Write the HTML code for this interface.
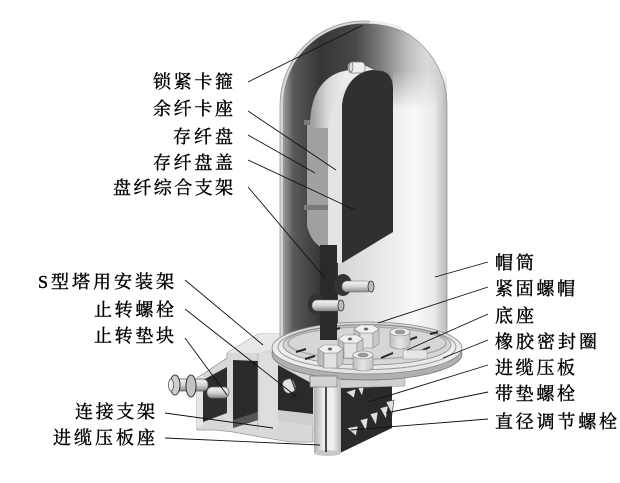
<!DOCTYPE html>
<html><head><meta charset="utf-8">
<style>
html,body{margin:0;padding:0;background:#fff;}
svg{display:block;}
text{font-family:"Liberation Serif","Noto Serif CJK SC","Noto Sans CJK SC",serif;font-size:18px;fill:#000;stroke:#000;stroke-width:0.4;dominant-baseline:central;}
</style></head>
<body>
<svg width="620" height="483" viewBox="0 0 620 483" xmlns="http://www.w3.org/2000/svg">
<defs>
  <linearGradient id="gInt" gradientUnits="userSpaceOnUse" x1="280" y1="0" x2="447" y2="0">
    <stop offset="0" stop-color="#c8c8c8"/>
    <stop offset="0.02" stop-color="#9a9a9a"/>
    <stop offset="0.08" stop-color="#5a5a5a"/>
    <stop offset="0.24" stop-color="#363636"/>
    <stop offset="0.45" stop-color="#474747"/>
    <stop offset="0.62" stop-color="#838383"/>
    <stop offset="0.76" stop-color="#bdbdbd"/>
    <stop offset="0.88" stop-color="#dadada"/>
    <stop offset="0.97" stop-color="#cecece"/>
    <stop offset="1" stop-color="#aaaaaa"/>
  </linearGradient>
  <linearGradient id="gExt" gradientUnits="userSpaceOnUse" x1="338" y1="0" x2="447" y2="0">
    <stop offset="0" stop-color="#d4d4d4"/>
    <stop offset="0.3" stop-color="#e4e4e4"/>
    <stop offset="0.7" stop-color="#f8f8f8"/>
    <stop offset="0.88" stop-color="#ebebeb"/>
    <stop offset="1" stop-color="#b8b8b8"/>
  </linearGradient>
  <linearGradient id="vfade" gradientUnits="userSpaceOnUse" x1="0" y1="70" x2="0" y2="110">
    <stop offset="0" stop-color="#000"/>
    <stop offset="1" stop-color="#fff"/>
  </linearGradient>
  <mask id="mExt"><rect x="270" y="0" width="190" height="483" fill="url(#vfade)"/></mask>
  <linearGradient id="gHold" gradientUnits="userSpaceOnUse" x1="310" y1="0" x2="345" y2="0">
    <stop offset="0" stop-color="#9a9a9a"/>
    <stop offset="0.5" stop-color="#d8d8d8"/>
    <stop offset="1" stop-color="#ececec"/>
  </linearGradient>
  <linearGradient id="gCol" gradientUnits="userSpaceOnUse" x1="314" y1="0" x2="341" y2="0">
    <stop offset="0" stop-color="#b0b0b0"/>
    <stop offset="0.35" stop-color="#ececec"/>
    <stop offset="0.7" stop-color="#f2f2f2"/>
    <stop offset="1" stop-color="#b4b4b4"/>
  </linearGradient>
  <linearGradient id="gPeg" x1="0" y1="0" x2="0" y2="1">
    <stop offset="0" stop-color="#f4f4f4"/>
    <stop offset="0.5" stop-color="#d6d6d6"/>
    <stop offset="1" stop-color="#8a8a8a"/>
  </linearGradient>
  <linearGradient id="gRing" x1="0" y1="0" x2="0" y2="1">
    <stop offset="0" stop-color="#d8d8d8"/>
    <stop offset="0.6" stop-color="#f0f0f0"/>
    <stop offset="1" stop-color="#e2e2e2"/>
  </linearGradient>
  <linearGradient id="gNut" x1="0" y1="0" x2="1" y2="0">
    <stop offset="0" stop-color="#bdbdbd"/>
    <stop offset="0.5" stop-color="#e6e6e6"/>
    <stop offset="1" stop-color="#c4c4c4"/>
  </linearGradient>
</defs>

<!-- ===== Left bracket ===== -->
<polygon points="197,378 227,358 227,353 258,334 282,334 282,350 313,368 313,442 290,442 255,436 233,432 215,430 197,430" fill="#d8d8d8" stroke="#9a9a9a" stroke-width="0.8"/>
<polygon points="227,353 258,334 282,334 282,346 258,353" fill="#e8e8e8"/>
<polygon points="197,378 203,375 203,425 197,428" fill="#e6e6e6"/>
<polygon points="203,380 227,367 227,413 203,422" fill="#2e2e2e"/>
<polygon points="233,360 258,361 258,420 233,428" fill="#2a2a2a"/>
<polygon points="233,420 258,412 258,420 233,428" fill="#555"/>
<polygon points="278,365 313,384 313,424 278,419" fill="#2a2a2a"/>
<polygon points="278,410 313,414 313,426 278,421" fill="#cfcfcf"/>
<rect x="258" y="353" width="20" height="76" fill="#dedede"/>
<line x1="258" y1="353" x2="258" y2="430" stroke="#aaa" stroke-width="0.6"/>
<!-- left bolts -->
<rect x="174" y="379" width="34" height="12" rx="5" fill="url(#gPeg)" stroke="#555" stroke-width="0.7"/>
<ellipse cx="175" cy="385" rx="5" ry="10" fill="#cfcfcf" stroke="#333" stroke-width="1"/>
<ellipse cx="191" cy="386" rx="5" ry="11" fill="#c4c4c4" stroke="#333" stroke-width="1"/>
<ellipse cx="171" cy="385" rx="2.5" ry="6" fill="#eee" stroke="#444" stroke-width="0.7"/>
<rect x="207" y="387" width="22" height="11" rx="5" fill="url(#gPeg)" stroke="#666" stroke-width="0.7"/>
<!-- anti-rotation bolt -->
<rect x="283" y="379" width="12" height="14" rx="5" fill="#e2e2e2" stroke="#555" stroke-width="0.8" transform="rotate(-20 289 386)"/>
<line x1="291" y1="378" x2="296" y2="392" stroke="#333" stroke-width="1.2"/>

<!-- ===== Dome + cylinder ===== -->
<path d="M280,346 L280,105 A83.5,84 0 0 1 447,105 L447,346 Z" fill="url(#gInt)"/>
<path d="M338,346 L338,255 L393,232 L393,60 L447,60 L447,346 Z" fill="url(#gExt)" mask="url(#mExt)"/>
<path d="M281.5,346 L281.5,105 A82,82.5 0 0 1 372,22.5" fill="none" stroke="#d6d6d6" stroke-width="3"/>
<path d="M280,346 L280,105 A83.5,84 0 0 1 447,105 L447,346" fill="none" stroke="#9a9a9a" stroke-width="0.8"/>
<path d="M370,22 Q388,23 402,29" fill="none" stroke="#ededed" stroke-width="3"/>
<path d="M372,25 Q388,26 400,31" fill="none" stroke="#888" stroke-width="0.6"/>

<!-- ===== Tray ===== -->
<path d="M307,124 L328,124 L328,250 Q312,246 307,226 Z" fill="#a0a0a0"/>
<rect x="304" y="120" width="24" height="5" fill="#7a7a7a"/>
<rect x="304" y="205" width="24" height="5" fill="#7a7a7a"/>
<path d="M310,128 C310,100 318,80 340,72 L366,66 L374,70 C356,76 345,90 342,110 L342,263 L328,263 L328,128 Z" fill="url(#gHold)"/>
<path d="M328,128 L328,263 L342,263 L342,110 C345,92 352,80 362,74 C345,80 332,96 328,128 Z" fill="#e4e4e4"/>
<path d="M342,105 C344,86 355,72 372,70 L382,71 C390,73 393,80 393,90 L393,232 L342,263 Z" fill="#303030"/>
<rect x="348" y="62" width="17" height="11" rx="4" fill="#efefef" stroke="#777" stroke-width="0.7"/>
<ellipse cx="351" cy="67" rx="2" ry="5" fill="#ddd" stroke="#555" stroke-width="0.6"/>

<!-- ===== Column & dark block below ring ===== -->
<polygon points="340,386 392,380 392,428 340,453" fill="#2a2a2a"/>
<polygon points="338,380 405,377 405,386 340,388" fill="#cfcfcf" stroke="#888" stroke-width="0.5"/>
<rect x="314" y="382" width="27" height="71" fill="url(#gCol)"/>
<ellipse cx="327.5" cy="453" rx="13.5" ry="3" fill="#c8c8c8"/>
<line x1="326" y1="386" x2="326" y2="452" stroke="#222" stroke-width="1.6"/>
<!-- bolts (cone-like) -->
<g fill="#e0e0e0" stroke="#333" stroke-width="0.6">
  <path d="M346,392 L356,389 L354,398 Z"/>
  <path d="M358,388 L364,387 L362,396 Z"/>
  <path d="M386,402 L394,400 L392,414 Z"/>
  <path d="M380,408 L388,406 L386,419 Z"/>
  <path d="M370,414 L378,412 L376,425 Z"/>
  <path d="M360,420 L368,418 L366,431 Z"/>
  <path d="M347,428 L358,426 L356,436 Z"/>
</g>

<!-- ===== Ring / base ===== -->
<ellipse cx="367" cy="354" rx="95" ry="26" fill="#b0b0b0" stroke="#777" stroke-width="0.8"/>
<ellipse cx="367" cy="348" rx="95" ry="26" fill="url(#gRing)" stroke="#888" stroke-width="0.8"/>
<ellipse cx="367" cy="347" rx="89" ry="22.5" fill="none" stroke="#999" stroke-width="1"/>
<ellipse cx="367" cy="345" rx="84" ry="20" fill="#d6d6d6" stroke="#8a8a8a" stroke-width="0.8"/>
<ellipse cx="367" cy="343" rx="79" ry="16" fill="none" stroke="#aaa" stroke-width="1.5"/>
<!-- slots -->
<g stroke="#262626" stroke-width="2">
  <line x1="296" y1="352" x2="306" y2="349"/>
  <line x1="305" y1="359" x2="315" y2="356"/>
  <line x1="330" y1="331" x2="340" y2="328"/>
  <line x1="381" y1="358" x2="393" y2="353"/>
  <line x1="406" y1="341" x2="417" y2="337"/>
  <line x1="418" y1="352" x2="430" y2="347"/>
  <line x1="430" y1="334" x2="438" y2="332"/>
</g>
<rect x="403" y="350" width="24" height="9" fill="#e6e6e6" stroke="#999" stroke-width="0.6"/>
<!-- tab under ring -->
<rect x="310" y="376" width="27" height="11" fill="#d2d2d2" stroke="#777" stroke-width="0.7"/>

<!-- nuts -->
<g stroke="#8a8a8a" stroke-width="0.6">
  <polygon points="354,329 360,333 360,348 354,344" fill="#bdbdbd"/>
  <polygon points="360,333 373,333 373,348 360,348" fill="#e2e2e2"/>
  <polygon points="373,333 379,329 379,344 373,348" fill="#c8c8c8"/>
  <polygon points="354,329 360,325 373,325 379,329 373,333 360,333" fill="#f0f0f0"/>
  <ellipse cx="366" cy="329" rx="2" ry="1.2" fill="#555"/>

  <polygon points="338,339 344,343 344,358 338,354" fill="#bdbdbd"/>
  <polygon points="344,343 357,343 357,358 344,358" fill="#e2e2e2"/>
  <polygon points="357,343 363,339 363,354 357,358" fill="#c8c8c8"/>
  <polygon points="338,339 344,335 357,335 363,339 357,343 344,343" fill="#f0f0f0"/>
  <ellipse cx="350" cy="339" rx="2" ry="1.2" fill="#555"/>

  <polygon points="318,349 324,353 324,368 318,364" fill="#bdbdbd"/>
  <polygon points="324,353 337,353 337,368 324,368" fill="#e2e2e2"/>
  <polygon points="337,353 343,349 343,364 337,368" fill="#c8c8c8"/>
  <polygon points="318,349 324,345 337,345 343,349 337,353 324,353" fill="#f0f0f0"/>
  <ellipse cx="330" cy="349" rx="2" ry="1.2" fill="#555"/>

  <path d="M390,332 L390,345 A10,4 0 0 0 410,345 L410,332 Z" fill="url(#gNut)"/>
  <ellipse cx="400" cy="332" rx="10" ry="4" fill="#ececec"/>
  <ellipse cx="400" cy="332" rx="5" ry="2" fill="#9a9a9a"/>

  <path d="M353,355 L353,367 A10,4 0 0 0 373,367 L373,355 Z" fill="url(#gNut)"/>
  <ellipse cx="363" cy="355" rx="10" ry="4" fill="#ececec"/>
  <ellipse cx="363" cy="355" rx="5" ry="2" fill="#9a9a9a"/>
</g>

<!-- ===== Stem & pegs ===== -->
<rect x="320" y="245" width="17" height="95" fill="#2a2a2a"/>
<ellipse cx="343" cy="285" rx="9" ry="11" fill="#333"/>
<ellipse cx="316" cy="304" rx="8" ry="11" fill="#333"/>
<rect x="342" y="281" width="30" height="11" rx="5" fill="url(#gPeg)" stroke="#666" stroke-width="0.5"/>
<ellipse cx="371" cy="286.5" rx="3" ry="5.5" fill="#bbb" stroke="#333" stroke-width="0.8"/>
<rect x="312" y="300" width="30" height="11" rx="5" fill="url(#gPeg)" stroke="#666" stroke-width="0.5"/>
<ellipse cx="341" cy="305.5" rx="3" ry="5.5" fill="#bbb" stroke="#333" stroke-width="0.8"/>

<!-- ===== Leader lines ===== -->
<g stroke="#111" stroke-width="0.9" fill="none">
  <line x1="248" y1="82" x2="363" y2="25"/>
  <line x1="248" y1="111" x2="336" y2="170"/>
  <line x1="248" y1="135" x2="315" y2="173"/>
  <line x1="248" y1="160" x2="355" y2="210"/>
  <line x1="248" y1="187" x2="325" y2="278"/>
  <line x1="185" y1="280" x2="263" y2="345"/>
  <line x1="185" y1="309" x2="297" y2="397"/>
  <line x1="185" y1="338" x2="227" y2="395"/>
  <line x1="165" y1="413" x2="273" y2="428"/>
  <line x1="165" y1="438" x2="320" y2="445"/>
  <line x1="488" y1="262" x2="435" y2="277"/>
  <line x1="488" y1="287" x2="378" y2="323"/>
  <line x1="488" y1="314" x2="407" y2="350"/>
  <line x1="488" y1="340" x2="443" y2="358"/>
  <line x1="488" y1="365" x2="368" y2="402"/>
  <line x1="488" y1="392" x2="386" y2="413"/>
  <line x1="488" y1="419" x2="351" y2="430"/>
</g>

<!-- ===== Labels ===== -->
<text x="153" y="82" textLength="80" lengthAdjust="spacing">锁紧卡箍</text>
<text x="153" y="109" textLength="80" lengthAdjust="spacing">余纤卡座</text>
<text x="173" y="137" textLength="60" lengthAdjust="spacing">存纤盘</text>
<text x="153" y="163" textLength="80" lengthAdjust="spacing">存纤盘盖</text>
<text x="113" y="188" textLength="120" lengthAdjust="spacing">盘纤综合支架</text>
<text x="38" y="282" textLength="136" lengthAdjust="spacing">S型塔用安装架</text>
<text x="94" y="310" textLength="80" lengthAdjust="spacing">止转螺栓</text>
<text x="94" y="336" textLength="80" lengthAdjust="spacing">止转垫块</text>
<text x="75" y="412" textLength="80" lengthAdjust="spacing">连接支架</text>
<text x="53" y="438" textLength="102" lengthAdjust="spacing">进缆压板座</text>

<text x="495" y="263" textLength="39" lengthAdjust="spacing">帽筒</text>
<text x="495" y="289" textLength="80" lengthAdjust="spacing">紧固螺帽</text>
<text x="495" y="316" textLength="39" lengthAdjust="spacing">底座</text>
<text x="495" y="342" textLength="102" lengthAdjust="spacing">橡胶密封圈</text>
<text x="495" y="368" textLength="80" lengthAdjust="spacing">进缆压板</text>
<text x="495" y="394" textLength="80" lengthAdjust="spacing">带垫螺栓</text>
<text x="495" y="422" textLength="122" lengthAdjust="spacing">直径调节螺栓</text>
</svg>
</body></html>
